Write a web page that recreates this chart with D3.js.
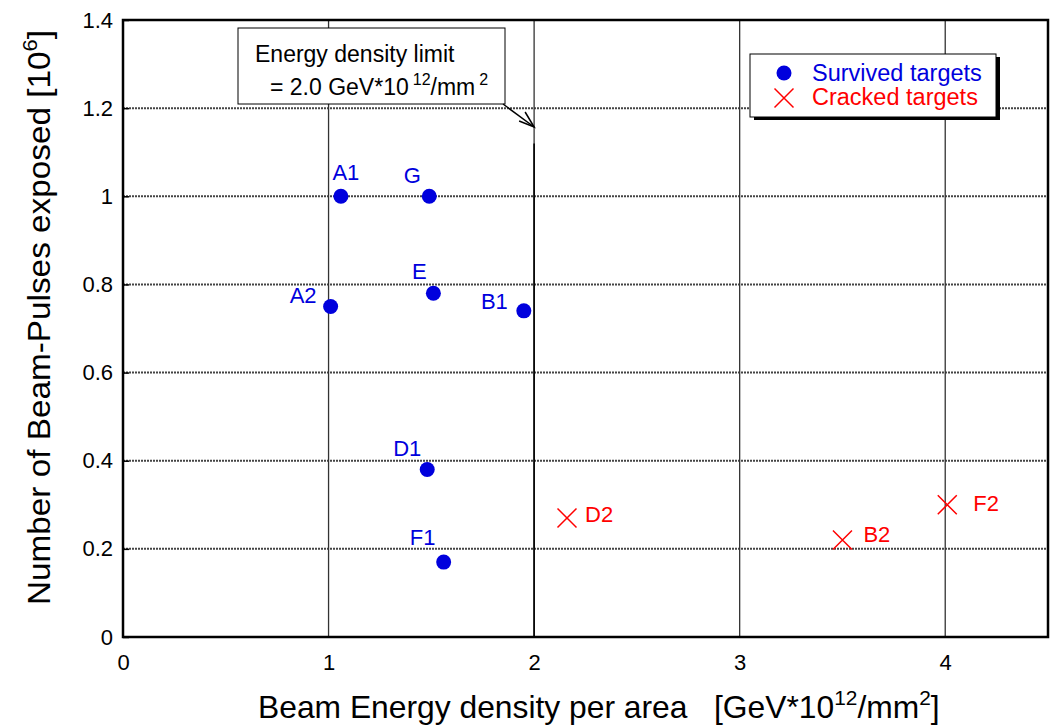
<!DOCTYPE html>
<html>
<head>
<meta charset="utf-8">
<script src="https://cdn.jsdelivr.net/npm/d3@7"></script>
<style>
  body { margin: 0; background: #fff; }
  text { font-family: "Liberation Sans", Arial, sans-serif; white-space: pre; }
</style>
</head>
<body>
<svg id="chart" width="1060" height="728"></svg>
<script>
// Survived targets
const survivedNames = ["A1", "G", "E", "A2", "B1", "D1", "F1"];
const survivedX = [1.06, 1.49, 1.51, 1.01, 1.95, 1.48, 1.56];
const survivedY = [1.0, 1.0, 0.78, 0.75, 0.74, 0.38, 0.17];

// Cracked targets
const crackedNames = ["D2", "B2", "F2"];
const crackedX = [2.16, 3.5, 4.01];
const crackedY = [0.27, 0.22, 0.30];

const xTicks = [0, 1, 2, 3, 4];
const yTicks = [0, 0.2, 0.4, 0.6, 0.8, 1, 1.2, 1.4];
const limitX = 2.0;

// label offsets (px) for each point
const survivedLabelPos = [[5, -16, "middle"], [-17, -13, "middle"], [-14, -14, "middle"],
  [-14, -3, "end"], [-16, -2, "end"], [-20, -14, "middle"], [-21, -17, "middle"]];
const crackedLabelPos = [[18, 4, "start"], [21, 2, "start"], [26, 6, "start"]];

const svg = d3.select("#chart");
const margin = { left: 123, top: 20, right: 12, bottom: 91 };
const W = 1060, H = 728;

const x = d3.scaleLinear().domain([0, 4.5]).range([margin.left, W - margin.right]);
const y = d3.scaleLinear().domain([0, 1.4]).range([H - margin.bottom, margin.top]);

const BLUE = "#0000dd", RED = "#ff0000";
const FS = 22;

// grid
svg.append("g").selectAll("line").data(yTicks.slice(1, -1)).join("line")
  .attr("x1", x(0)).attr("x2", x(4.5))
  .attr("y1", d => y(d)).attr("y2", d => y(d))
  .attr("stroke", "#444").attr("stroke-width", 2).attr("stroke-dasharray", "2,1");
svg.append("g").selectAll("line").data(xTicks.slice(1)).join("line")
  .attr("x1", d => x(d)).attr("x2", d => x(d))
  .attr("y1", y(0)).attr("y2", y(1.4))
  .attr("stroke", "#333").attr("stroke-width", 1.3);

// limit line
svg.append("line")
  .attr("x1", x(limitX)).attr("x2", x(limitX))
  .attr("y1", y(1.12)).attr("y2", y(0))
  .attr("stroke", "#000").attr("stroke-width", 1.6);

// frame
svg.append("rect")
  .attr("x", x(0)).attr("y", y(1.4))
  .attr("width", x(4.5) - x(0)).attr("height", y(0) - y(1.4))
  .attr("fill", "none").attr("stroke", "#000").attr("stroke-width", 2.5);

// axes
const xAxis = svg.append("g").attr("transform", `translate(0,${y(0)})`)
  .call(d3.axisBottom(x).tickValues(xTicks).tickSize(0).tickPadding(17).tickFormat(d3.format("d")));
const yAxis = svg.append("g").attr("transform", `translate(${x(0)},0)`)
  .call(d3.axisLeft(y).tickValues(yTicks).tickSize(-6).tickPadding(10).tickFormat(d => d3.format("")(+d.toFixed(1))));
[xAxis, yAxis].forEach(a => {
  a.select(".domain").remove();
  a.selectAll("line").attr("stroke", "#000").attr("stroke-width", 1.5);
  a.selectAll("text").attr("font-size", FS).attr("fill", "#000")
    .attr("font-family", "Liberation Sans, Arial, sans-serif");
});

// squeeze a text horizontally so it spans the given length
function fitWidth(sel, len) {
  const w = sel.node().getBBox().width;
  sel.attr("transform", (sel.attr("transform") || "") + ` scale(${len / w},1)`);
}

// axis titles
const xt = svg.append("text").attr("transform", "translate(258,718)").attr("font-size", 32);
xt.append("tspan").text("Beam Energy density per area   [GeV*10");
xt.append("tspan").attr("dy", -13).attr("font-size", 21).text("12");
xt.append("tspan").attr("dy", 13).text("/mm");
xt.append("tspan").attr("dy", -13).attr("font-size", 21).text("2");
xt.append("tspan").attr("dy", 13).text("]");
fitWidth(xt, 682);

const yt = svg.append("text").attr("transform", "translate(50,605) rotate(-90)").attr("font-size", 32);
yt.append("tspan").text("Number of Beam-Pulses exposed [10");
yt.append("tspan").attr("dy", -13).attr("font-size", 21).text("6");
yt.append("tspan").attr("dy", 13).text("]");
fitWidth(yt, 575);

// survived points
survivedNames.forEach((n, i) => {
  const cx = x(survivedX[i]), cy = y(survivedY[i]);
  svg.append("circle").attr("cx", cx).attr("cy", cy).attr("r", 7.5).attr("fill", BLUE);
  const p = survivedLabelPos[i];
  svg.append("text").attr("x", cx + p[0]).attr("y", cy + p[1])
    .attr("text-anchor", p[2]).attr("font-size", FS).attr("fill", BLUE).text(n);
});

// cracked points
const cross = (g, cx, cy, s) => {
  g.append("path").attr("d", `M${cx - s},${cy - s}L${cx + s},${cy + s}M${cx - s},${cy + s}L${cx + s},${cy - s}`)
    .attr("stroke", RED).attr("stroke-width", 1.5).attr("fill", "none");
};
crackedNames.forEach((n, i) => {
  const cx = x(crackedX[i]), cy = y(crackedY[i]);
  cross(svg, cx, cy, 9.5);
  const p = crackedLabelPos[i];
  svg.append("text").attr("x", cx + p[0]).attr("y", cy + p[1])
    .attr("text-anchor", p[2]).attr("font-size", FS).attr("fill", RED).text(n);
});

// annotation box
svg.append("rect").attr("x", 238).attr("y", 28).attr("width", 267).attr("height", 76)
  .attr("fill", "#fff").attr("stroke", "#000").attr("stroke-width", 1);
svg.append("text").attr("x", 255).attr("y", 62).attr("font-size", 23).text("Energy density limit");
const at = svg.append("text").attr("x", 270).attr("y", 95).attr("font-size", 23);
at.append("tspan").text("= 2.0 GeV*10");
at.append("tspan").attr("dx", 4).attr("dy", -10).attr("font-size", 16).text("12");
at.append("tspan").attr("dy", 10).text("/mm");
at.append("tspan").attr("dx", 4).attr("dy", -10).attr("font-size", 16).text("2");

// arrow
svg.append("line").attr("x1", 503).attr("y1", 104).attr("x2", x(limitX)).attr("y2", 127)
  .attr("stroke", "#000").attr("stroke-width", 1.5);
svg.append("path").attr("d", `M${x(limitX) - 15},${121}L${x(limitX)},${127}L${x(limitX) - 9},${112}`)
  .attr("stroke", "#000").attr("stroke-width", 1.5).attr("fill", "none");

// legend
const lg = svg.append("g");
lg.append("rect").attr("x", 754).attr("y", 57).attr("width", 246).attr("height", 63).attr("fill", "#000");
lg.append("rect").attr("x", 750).attr("y", 54).attr("width", 246).attr("height", 63)
  .attr("fill", "#fff").attr("stroke", "#000").attr("stroke-width", 1);
lg.append("circle").attr("cx", 784).attr("cy", 73).attr("r", 7.5).attr("fill", BLUE);
lg.append("text").attr("x", 812).attr("y", 81).attr("font-size", 23.5).attr("fill", BLUE).text("Survived targets");
cross(lg, 784, 98, 9.5);
lg.append("text").attr("x", 812).attr("y", 105).attr("font-size", 23.5).attr("fill", RED).text("Cracked targets");
</script>
</body>
</html>
